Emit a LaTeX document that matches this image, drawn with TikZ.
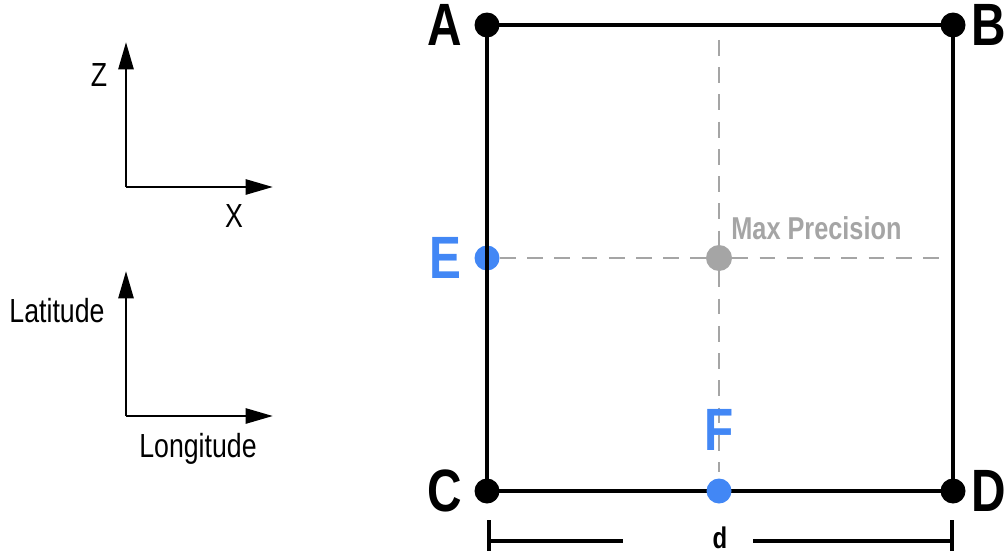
\documentclass[tikz,border=0pt]{standalone}
\usepackage{fontspec}
\setmainfont{Liberation Sans}[FakeStretch=0.8]
\usetikzlibrary{arrows.meta,positioning}
\definecolor{ptblue}{RGB}{66,135,245}
\definecolor{ptgrey}{RGB}{165,165,165}
\tikzset{
  corner/.style ={circle, fill=black, minimum size=5mm, inner sep=0pt},
  bluept/.style ={circle, fill=ptblue, minimum size=5mm, inner sep=0pt},
  greypt/.style ={circle, fill=ptgrey, minimum size=5.2mm, inner sep=0pt},
  bigl/.style   ={inner sep=0pt, font=\fontsize{34}{38}\selectfont\bfseries},
  axl/.style    ={inner sep=0pt, font=\fontsize{19}{22}\selectfont},
  side/.style   ={line width=2.3pt},
  axis/.style   ={-{Triangle[length=5.5mm, width=3mm]}, line width=1.7pt},
  guide/.style  ={ptgrey, line width=1.6pt, dash pattern=on 9pt off 6.5pt},
  dim/.style    ={line width=1.9pt},
}
\begin{document}
\begin{tikzpicture}[x=0.02cm, y=-0.02cm]
  \useasboundingbox (0,0) rectangle (1006,554);
  % axes legend
  \coordinate (o1) at (126,187);
  \coordinate (z1) at (126,42);
  \coordinate (x1) at (273,187);
  \draw[axis] (o1) -- (z1);
  \draw[axis] (o1) -- (x1);
  \node[axl] (zl) at (99,75) {Z};
  \node[axl] (xl) at (234,216) {X};
  \coordinate (o2) at (126,416);
  \coordinate (z2) at (126,271);
  \coordinate (x2) at (273,416);
  \draw[axis] (o2) -- (z2);
  \draw[axis] (o2) -- (x2);
  \node[axl] (latl) at (57,311) {Latitude};
  \node[axl] (lonl) at (198,449) {Longitude};
  % the cell
  \coordinate (gt) at (719,40);
  \coordinate (gb) at (719,472);
  \coordinate (gr) at (945,258);
  \node[greypt] (M) at (719,258) {};
  \draw[guide] (gt) -- (M) -- (gb);
  \node[bluept] (E) at (487,258) {};
  \draw[guide] (E) -- (M) -- (gr);
  \draw[side] (487,25) rectangle (953,491);
  \node[corner] (A) at (487,25) {};
  \node[corner] (B) at (953,25) {};
  \node[corner] (C) at (487,491) {};
  \node[corner] (D) at (953,491) {};
  \node[bluept] (F) at (719,491) {};
  \node[bigl, left=0.24cm of A] {A};
  \node[bigl, right=0.11cm of B] {B};
  \node[bigl, left=0.24cm of C] {C};
  \node[bigl, right=0.11cm of D] {D};
  \node[bigl, text=ptblue, left=0.24cm of E] {E};
  \node[bigl, text=ptblue, above=0.55cm of F] {F};
  \node[axl, text=ptgrey, font=\fontsize{18}{20}\selectfont\bfseries,
        anchor=south west] at (731,240) {Max Precision};
  % width
  \coordinate (d1) at (489,541);
  \coordinate (d2) at (952,541);
  \node[axl, font=\fontsize{17}{20}\selectfont\bfseries] (dl) at (720,538) {d};
  \draw[dim] (d1) -- (623,541);
  \draw[dim] (753,541) -- (d2);
  \draw[dim] (489,520) -- (489,551);
  \draw[dim] (952,520) -- (952,551);
\end{tikzpicture}
\end{document}
